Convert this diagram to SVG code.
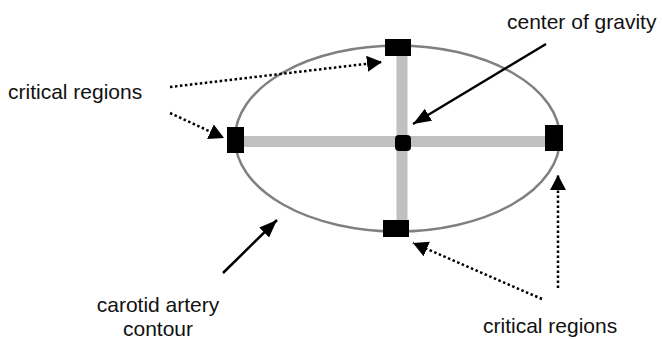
<svg xmlns="http://www.w3.org/2000/svg" width="662" height="339" viewBox="0 0 662 339">
  <style>
    .label { font-family: "Liberation Sans", Arial, sans-serif; font-size: 21px; fill: #111; }
    .axis { stroke: #c0c0c0; stroke-width: 11; fill: none; }
    .contour { stroke: #808080; stroke-width: 2.5; fill: none; }
    .marker-box { fill: #000; }
    .solid { stroke: #000; stroke-width: 2.5; fill: none; }
    .dotted { stroke: #000; stroke-width: 2.5; stroke-dasharray: 2.5 2.5; fill: none; }
  </style>
  <defs>
    <marker id="headSolid" markerUnits="userSpaceOnUse" markerWidth="20" markerHeight="16" refX="18" refY="7" orient="auto">
      <path d="M0,0 L18,7 L0,14 Z" fill="#000"/>
    </marker>
    <marker id="headDotted" markerUnits="userSpaceOnUse" markerWidth="18" markerHeight="18" refX="15" refY="8" orient="auto">
      <path d="M0,0 L15,8 L0,16 Z" fill="#000"/>
    </marker>
  </defs>

  <rect width="662" height="339" fill="#fff"/>

  <!-- artery contour with its two axes -->
  <g id="contour">
    <ellipse class="contour" cx="397.5" cy="138.5" rx="162.5" ry="93"/>
    <line class="axis" x1="236" y1="141.5" x2="554" y2="141.5"/>
    <line class="axis" x1="402" y1="48" x2="402" y2="228"/>
  </g>

  <!-- critical regions at the ends of the axes -->
  <g id="region-top"><rect class="marker-box" x="385" y="39" width="26" height="17"/></g>
  <g id="region-left"><rect class="marker-box" x="227" y="127" width="17" height="26"/></g>
  <g id="region-right"><rect class="marker-box" x="545" y="125" width="18" height="26"/></g>
  <g id="region-bottom"><rect class="marker-box" x="383" y="220" width="26" height="17"/></g>
  <g id="center"><rect class="marker-box" x="395" y="135" width="16" height="16" rx="4"/></g>

  <!-- labels -->
  <g id="label-critical-left"><text class="label" x="8" y="99">critical regions</text></g>
  <g id="label-center"><text class="label" x="507" y="29">center of gravity</text></g>
  <g id="label-contour">
    <text class="label" x="158" y="312" text-anchor="middle">carotid artery</text>
    <text class="label" x="158" y="336" text-anchor="middle">contour</text>
  </g>
  <g id="label-critical-right"><text class="label" x="483" y="333">critical regions</text></g>

  <!-- connectors -->
  <g id="connectors">
    <line class="dotted" x1="170" y1="87" x2="382" y2="62" marker-end="url(#headDotted)"/>
    <line class="dotted" x1="170" y1="113" x2="224" y2="138" marker-end="url(#headDotted)"/>
    <line class="dotted" x1="558" y1="288" x2="558" y2="175" marker-end="url(#headDotted)"/>
    <line class="dotted" x1="542" y1="299" x2="413" y2="243" marker-end="url(#headDotted)"/>
    <line class="solid" x1="546" y1="44" x2="413" y2="124" marker-end="url(#headSolid)"/>
    <line class="solid" x1="223" y1="273" x2="277" y2="220" marker-end="url(#headSolid)"/>
  </g>
</svg>
